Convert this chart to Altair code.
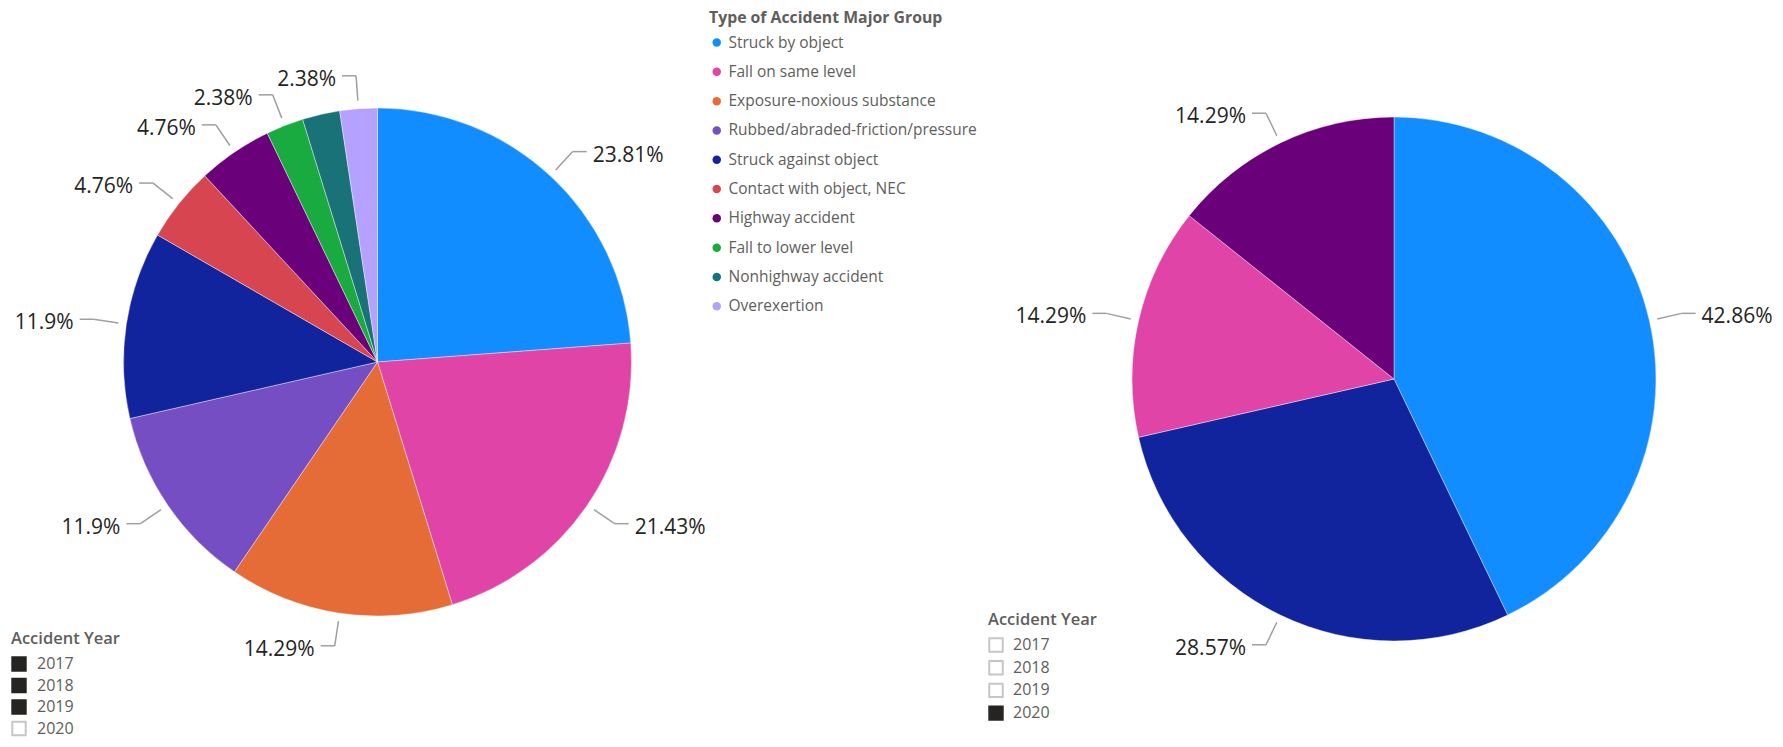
import altair as alt
import pandas as pd

FONT = "Open Sans"

# ---- data ----
categories = ["Struck by object", "Fall on same level", "Exposure-noxious substance",
              "Rubbed/abraded-friction/pressure", "Struck against object",
              "Contact with object, NEC", "Highway accident", "Fall to lower level",
              "Nonhighway accident", "Overexertion"]
palette = ["#118DFF", "#E044A7", "#E66C37", "#744EC2", "#12239E",
           "#D64550", "#6B007B", "#1AAB40", "#197278", "#B5A1FF"]

left_categories = categories
left_counts = [10, 9, 6, 5, 5, 2, 2, 1, 1, 1]
left_label_shown = [True, True, True, True, True, True, True, True, False, True]

right_categories = ["Struck by object", "Struck against object", "Fall on same level", "Highway accident"]
right_counts = [3, 2, 1, 1]
right_label_shown = [True, True, True, True]

years = [2017, 2018, 2019, 2020]
left_years_selected = [True, True, True, False]
right_years_selected = [False, False, False, True]

left_df = pd.DataFrame({"category": left_categories, "value": left_counts,
                        "idx": list(range(len(left_counts))), "shown": left_label_shown})
right_df = pd.DataFrame({"category": right_categories, "value": right_counts,
                         "idx": list(range(len(right_counts))), "shown": right_label_shown})

color_scale = alt.Scale(domain=categories, range=palette)
color_legend = alt.Legend(
    title="Type of Accident Major Group", orient="none", legendX=701, legendY=3,
    symbolType="circle", symbolSize=72, symbolStrokeWidth=0,
    labelFont=FONT, labelFontSize=15.5, labelColor="#605E5C", labelOffset=4,
    titleFont=FONT, titleFontSize=15.8, titleFontWeight="bold", titleColor="#605E5C",
    titlePadding=8, rowPadding=12.3, padding=0, labelLimit=400, titleLimit=400,
)

LABEL_COLOR = "#252423"
LINE_COLOR = "#A19F9D"


def pie(df, cx, cy, r):
    base = alt.Chart(df)
    arcs = base.mark_arc(radius=r, stroke="white", strokeWidth=0.4).encode(
        theta=alt.Theta("value:Q", stack="normalize"),
        order=alt.Order("idx:Q"),
        color=alt.Color("category:N", scale=color_scale, legend=color_legend),
        x=alt.value(cx), y=alt.value(cy),
    )
    lab = base.transform_joinaggregate(total="sum(value)").transform_window(
        cum="sum(value)", sort=[alt.SortField("idx")], frame=[None, 0]
    ).transform_calculate(
        mid="2*PI*(datum.cum - datum.value/2)/datum.total"
    ).transform_calculate(
        s="sin(datum.mid)", c="cos(datum.mid)"
    ).transform_calculate(
        x1=f"{cx} + {r + 8}*datum.s", y1=f"{cy} - {r + 8}*datum.c",
        x2=f"{cx} + {r + 33}*datum.s", y2=f"{cy} - {r + 33}*datum.c",
        side="datum.s >= 0 ? 1 : -1",
        label="format(100*datum.value/datum.total, '.2~f') + '%'",
    ).transform_calculate(
        x3="datum.x2 + 14*datum.side",
    ).transform_calculate(
        tx="datum.x3 + 6*datum.side",
    ).transform_filter("datum.shown")

    seg1 = lab.mark_rule(color=LINE_COLOR, strokeWidth=1.5).encode(
        x=alt.X("x1:Q", scale=None, axis=None), y=alt.Y("y1:Q", scale=None, axis=None),
        x2="x2:Q", y2="y2:Q")
    seg2 = lab.mark_rule(color=LINE_COLOR, strokeWidth=1.5).encode(
        x=alt.X("x2:Q", scale=None, axis=None), y=alt.Y("y2:Q", scale=None, axis=None),
        x2="x3:Q", y2="y2:Q")
    txt_r = lab.transform_filter("datum.side > 0").mark_text(
        align="left", baseline="middle", dy=4, font=FONT, fontSize=21, color=LABEL_COLOR
    ).encode(x=alt.X("tx:Q", scale=None, axis=None), y=alt.Y("y2:Q", scale=None, axis=None),
             text="label:N")
    txt_l = lab.transform_filter("datum.side < 0").mark_text(
        align="right", baseline="middle", dy=4, font=FONT, fontSize=21, color=LABEL_COLOR
    ).encode(x=alt.X("tx:Q", scale=None, axis=None), y=alt.Y("y2:Q", scale=None, axis=None),
             text="label:N")
    return [arcs, seg1, seg2, txt_r, txt_l]


def slicer(selected, x_sq, x_txt, y_title, title_x, y0, step):
    df = pd.DataFrame({"year": [str(y) for y in years], "selected": selected})
    base = alt.Chart(df).transform_window(rn="row_number()").transform_calculate(
        yy=f"{y0} + (datum.rn - 1)*{step}")
    sq = base.mark_point(shape="square", size=180, filled=False, strokeWidth=2, opacity=1).encode(
        x=alt.value(x_sq), y=alt.Y("yy:Q", scale=None, axis=None),
        fill=alt.condition("datum.selected", alt.value("#252423"), alt.value("white")),
        stroke=alt.condition("datum.selected", alt.value("#252423"), alt.value("#C8C6C4")),
    )
    tx = base.mark_text(align="left", baseline="middle", font=FONT, fontSize=16,
                        color="#605E5C").encode(
        x=alt.value(x_txt), y=alt.Y("yy:Q", scale=None, axis=None), text="year:N")
    title = alt.Chart(pd.DataFrame({"t": ["Accident Year"]})).mark_text(
        align="left", baseline="middle", font=FONT, fontSize=16.5, fontWeight=600,
        color="#605E5C").encode(x=alt.value(title_x), y=alt.value(y_title), text="t:N")
    return [sq, tx, title]


layers = []
layers += pie(left_df, 369.5, 354, 254)
layers += pie(right_df, 1386, 371, 262)
layers += slicer(left_years_selected, 11, 29, 631, 3, 656, 21.5)
layers += slicer(right_years_selected, 988, 1005, 612, 980, 637, 22.7)

chart = alt.layer(*layers).properties(
    width=1767, height=731, autosize=alt.AutoSizeParams(type="none"), padding=0,
    background="white"
).configure_view(stroke=None)

chart.save("out.html", embed_options={"renderer": "svg", "actions": False})
